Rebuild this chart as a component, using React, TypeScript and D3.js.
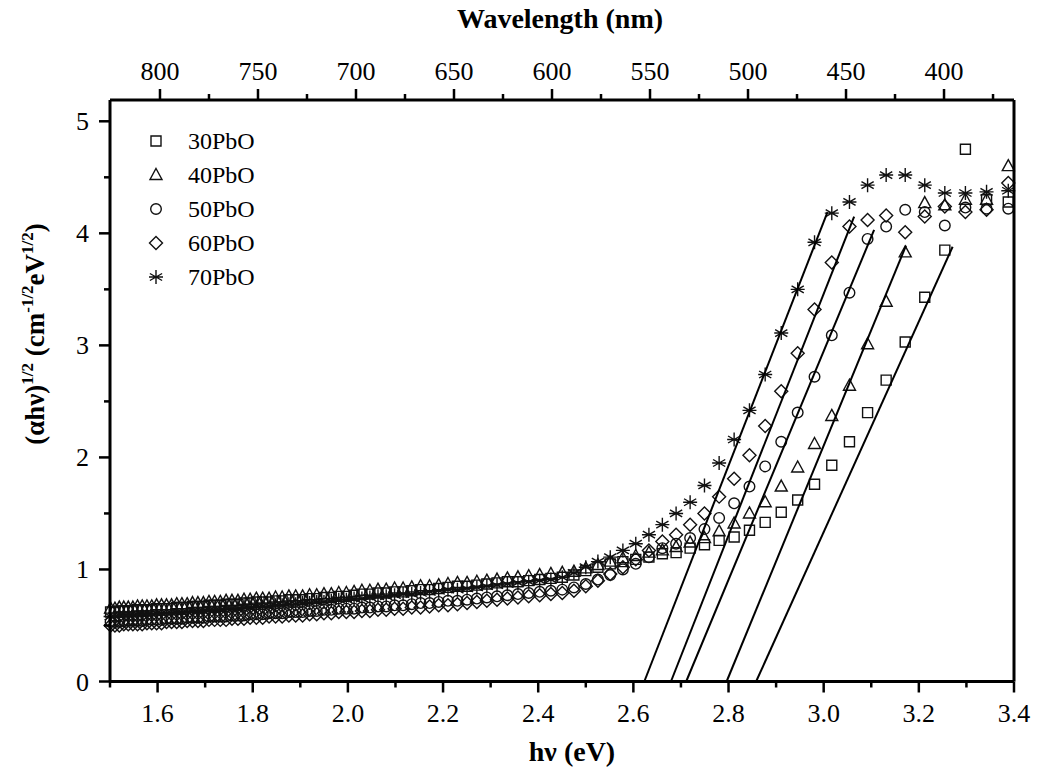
import React from 'react';
import * as d3 from 'd3';

// Measurement grid (nm); photon energy hν = 1240 / λ (eV)
const wavelengthNm = [
  826, 821, 816, 811, 806, 801, 796, 791, 786, 781,
  776, 771, 766, 761, 756, 751, 746, 741, 736, 731,
  726, 721, 716, 711, 706, 701, 696, 691, 686, 681,
  676, 671, 666, 661, 656, 651, 646, 641, 636, 631,
  626, 621, 616, 611, 606, 601, 596, 591, 586, 581,
  576, 571, 566, 561, 556, 551, 546, 541, 536, 531,
  526, 521, 516, 511, 506,
  501, 496, 491, 486, 481, 476, 471, 466, 461, 456,
  451, 446, 441, 436, 431, 426, 421, 416, 411, 406,
  401, 396, 391, 386, 381, 376, 371, 366,
];

// (αhν)^1/2 for each glass composition
const pbo30 = [
  0.62, 0.62, 0.63, 0.63, 0.63, 0.63, 0.64, 0.64, 0.64, 0.64,
  0.65, 0.65, 0.65, 0.65, 0.66, 0.66, 0.66, 0.67, 0.67, 0.67,
  0.68, 0.68, 0.68, 0.69, 0.69, 0.69, 0.70, 0.70, 0.71, 0.71,
  0.71, 0.72, 0.72, 0.73, 0.73, 0.73, 0.74, 0.74, 0.75, 0.75,
  0.76, 0.76, 0.77, 0.78, 0.78, 0.79, 0.79, 0.80, 0.80, 0.81,
  0.82, 0.82, 0.83, 0.84, 0.85, 0.85, 0.86, 0.87, 0.88, 0.89,
  0.89, 0.90, 0.91, 0.92, 0.93,
  0.95, 0.99, 1.02, 1.05, 1.07, 1.09, 1.11, 1.14, 1.15, 1.19,
  1.22, 1.26, 1.29, 1.35, 1.42, 1.51, 1.62, 1.76, 1.93, 2.14,
  2.40, 2.69, 3.03, 3.43, 3.85, 4.75, 4.30, 4.28,
];
const pbo40 = [
  0.65, 0.65, 0.66, 0.66, 0.66, 0.66, 0.67, 0.67, 0.67, 0.67,
  0.68, 0.68, 0.68, 0.68, 0.69, 0.69, 0.69, 0.70, 0.70, 0.70,
  0.71, 0.71, 0.71, 0.72, 0.72, 0.72, 0.73, 0.73, 0.74, 0.74,
  0.74, 0.75, 0.75, 0.76, 0.76, 0.76, 0.77, 0.77, 0.78, 0.78,
  0.79, 0.79, 0.80, 0.81, 0.81, 0.82, 0.82, 0.83, 0.83, 0.84,
  0.85, 0.85, 0.86, 0.87, 0.88, 0.88, 0.89, 0.90, 0.91, 0.92,
  0.93, 0.94, 0.95, 0.96, 0.97,
  0.98, 1.01, 1.04, 1.07, 1.10, 1.12, 1.15, 1.17, 1.20, 1.24,
  1.28, 1.34, 1.41, 1.50, 1.60, 1.74, 1.91, 2.12, 2.37, 2.64,
  3.01, 3.39, 3.83, 4.27, 4.25, 4.30, 4.30, 4.60,
];
const pbo50 = [
  0.53, 0.53, 0.53, 0.54, 0.54, 0.54, 0.54, 0.54, 0.55, 0.55,
  0.55, 0.55, 0.56, 0.56, 0.56, 0.56, 0.57, 0.57, 0.57, 0.57,
  0.58, 0.58, 0.58, 0.58, 0.59, 0.59, 0.59, 0.60, 0.60, 0.60,
  0.61, 0.61, 0.61, 0.62, 0.62, 0.62, 0.63, 0.63, 0.64, 0.64,
  0.65, 0.65, 0.65, 0.66, 0.66, 0.67, 0.67, 0.68, 0.68, 0.69,
  0.70, 0.70, 0.71, 0.72, 0.72, 0.73, 0.74, 0.75, 0.76, 0.77,
  0.78, 0.79, 0.80, 0.81, 0.82,
  0.84, 0.87, 0.91, 0.95, 1.00, 1.05, 1.11, 1.19, 1.23, 1.28,
  1.36, 1.46, 1.59, 1.74, 1.92, 2.14, 2.40, 2.72, 3.09, 3.47,
  3.95, 4.06, 4.21, 4.19, 4.07, 4.23, 4.22, 4.22,
];
const pbo60 = [
  0.50, 0.50, 0.50, 0.51, 0.51, 0.51, 0.51, 0.51, 0.52, 0.52,
  0.52, 0.52, 0.53, 0.53, 0.53, 0.53, 0.54, 0.54, 0.54, 0.54,
  0.55, 0.55, 0.55, 0.55, 0.56, 0.56, 0.56, 0.57, 0.57, 0.57,
  0.58, 0.58, 0.58, 0.59, 0.59, 0.59, 0.60, 0.60, 0.61, 0.61,
  0.62, 0.62, 0.62, 0.63, 0.63, 0.64, 0.64, 0.65, 0.65, 0.66,
  0.66, 0.67, 0.68, 0.68, 0.69, 0.70, 0.71, 0.72, 0.73, 0.74,
  0.75, 0.76, 0.77, 0.78, 0.79,
  0.81, 0.85, 0.90, 0.96, 1.02, 1.09, 1.17, 1.25, 1.31, 1.40,
  1.50, 1.65, 1.81, 2.02, 2.28, 2.59, 2.93, 3.32, 3.74, 4.06,
  4.12, 4.16, 4.01, 4.15, 4.24, 4.19, 4.21, 4.45,
];
const pbo70 = [
  0.58, 0.58, 0.59, 0.59, 0.59, 0.59, 0.60, 0.60, 0.60, 0.60,
  0.61, 0.61, 0.61, 0.61, 0.62, 0.62, 0.62, 0.63, 0.63, 0.63,
  0.64, 0.64, 0.64, 0.65, 0.65, 0.65, 0.66, 0.66, 0.67, 0.67,
  0.67, 0.68, 0.68, 0.69, 0.69, 0.70, 0.70, 0.71, 0.71, 0.72,
  0.73, 0.73, 0.74, 0.74, 0.75, 0.76, 0.76, 0.77, 0.78, 0.78,
  0.79, 0.80, 0.81, 0.82, 0.82, 0.83, 0.84, 0.85, 0.86, 0.87,
  0.88, 0.89, 0.90, 0.91, 0.93,
  0.97, 1.02, 1.07, 1.11, 1.17, 1.23, 1.31, 1.40, 1.50, 1.60,
  1.75, 1.95, 2.16, 2.42, 2.74, 3.11, 3.50, 3.92, 4.18, 4.28,
  4.43, 4.52, 4.52, 4.43, 4.36, 4.36, 4.37, 4.38,
];

const seriesNames = ['30PbO', '40PbO', '50PbO', '60PbO', '70PbO'];
const seriesValues = [pbo30, pbo40, pbo50, pbo60, pbo70];
const seriesSymbols = ['square', 'triangle', 'circle', 'diamond', 'asterisk'];

// Linear Tauc fits: optical gap (x-intercept) and upper end of each fitted segment
const fitGapEv = [2.858, 2.796, 2.711, 2.679, 2.623];
const fitEndEv = [3.271, 3.173, 3.106, 3.064, 3.008];
const fitEndValue = [3.88, 3.89, 4.03, 4.15, 4.19];

const energyTicks = [1.6, 1.8, 2.0, 2.2, 2.4, 2.6, 2.8, 3.0, 3.2, 3.4];
const energyMinorTicks = [1.5, 1.7, 1.9, 2.1, 2.3, 2.5, 2.7, 2.9, 3.1, 3.3];
const valueTicks = [0, 1, 2, 3, 4, 5];
const valueMinorTicks = [0.5, 1.5, 2.5, 3.5, 4.5];
const wavelengthTicks = [800, 750, 700, 650, 600, 550, 500, 450, 400];
const wavelengthMinorTicks = [775, 725, 675, 625, 575, 525, 475, 425, 375];

const W = 1043;
const H = 778;
const left = 110;
const right = 1014;
const top = 100;
const bottom = 681.5;

const FONT = '"Liberation Serif", "Times New Roman", serif';

function symbolPath(kind: string): string {
  switch (kind) {
    case 'square':
      return 'M-5,-5H5V5H-5Z';
    case 'triangle':
      return 'M0,-6.5L6,4.5H-6Z';
    case 'diamond':
      return 'M0,-6.5L6.5,0L0,6.5L-6.5,0Z';
    case 'asterisk':
      return 'M0,-7V7M-6.1,-3.5L6.1,3.5M-6.1,3.5L6.1,-3.5M-7,0H7';
    default:
      return '';
  }
}

function Marker({ kind, x, y }: { kind: string; x: number; y: number }) {
  if (kind === 'circle') {
    return <circle cx={x} cy={y} r={5.3} fill="none" stroke="#111" strokeWidth={1.4} />;
  }
  return (
    <path
      d={symbolPath(kind)}
      transform={`translate(${x},${y})`}
      fill="none"
      stroke="#111"
      strokeWidth={1.4}
      strokeLinejoin="miter"
    />
  );
}

export default function App() {
  const x = d3.scaleLinear().domain([1.5, 3.4]).range([left, right]);
  const y = d3.scaleLinear().domain([0, 5.19]).range([bottom, top]);
  const xTop = d3.scaleLinear().domain([825.5, 364.3]).range([left, right]);
  const energy = wavelengthNm.map((l) => 1240 / l);

  const fitLine = d3
    .line<[number, number]>()
    .x((d) => x(d[0]))
    .y((d) => y(d[1]));

  const axisW = 3;
  const major = 11;
  const minor = 6;

  return (
    <svg
      width={W}
      height={H}
      viewBox={`0 0 ${W} ${H}`}
      style={{ position: 'absolute', left: 0, top: 0, background: '#fff' }}
      fontFamily={FONT}
    >
      <rect x={0} y={0} width={W} height={H} fill="#fff" />

      {/* data markers */}
      <g>
        {seriesValues.map((vals, si) =>
          vals.map((v, i) => (
            <Marker key={`${si}-${i}`} kind={seriesSymbols[si]} x={x(energy[i])} y={y(v)} />
          ))
        )}
      </g>

      {/* Tauc fit lines */}
      <g>
        {fitGapEv.map((g, i) => (
          <path
            key={i}
            d={fitLine([
              [g, 0],
              [fitEndEv[i], fitEndValue[i]],
            ]) as string}
            fill="none"
            stroke="#000"
            strokeWidth={2}
          />
        ))}
      </g>

      {/* frame */}
      <g stroke="#000" strokeWidth={axisW} fill="none">
        <line x1={left} x2={right} y1={bottom} y2={bottom} />
        <line x1={left} x2={right} y1={top} y2={top} />
        <line x1={left} x2={left} y1={top} y2={bottom} />
        <line x1={right} x2={right} y1={top} y2={bottom} />
      </g>

      {/* bottom axis */}
      <g stroke="#000" strokeWidth={2.5}>
        {energyTicks.map((t) => (
          <line key={t} x1={x(t)} x2={x(t)} y1={bottom} y2={bottom + major} />
        ))}
        {energyMinorTicks.map((t) => (
          <line key={t} x1={x(t)} x2={x(t)} y1={bottom} y2={bottom + minor} />
        ))}
      </g>
      <g fontSize={26} textAnchor="middle" fill="#000">
        {energyTicks.map((t) => (
          <text key={t} x={x(t)} y={722}>
            {t.toFixed(1)}
          </text>
        ))}
      </g>

      {/* left axis */}
      <g stroke="#000" strokeWidth={2.5}>
        {valueTicks.map((t) => (
          <line key={t} x1={left - major} x2={left} y1={y(t)} y2={y(t)} />
        ))}
        {valueMinorTicks.map((t) => (
          <line key={t} x1={left - minor} x2={left} y1={y(t)} y2={y(t)} />
        ))}
      </g>
      <g fontSize={26} textAnchor="end" fill="#000">
        {valueTicks.map((t) => (
          <text key={t} x={89} y={y(t) + 9}>
            {t}
          </text>
        ))}
      </g>

      {/* top axis (wavelength) */}
      <g stroke="#000" strokeWidth={2.5}>
        {wavelengthTicks.map((t) => (
          <line key={t} x1={xTop(t)} x2={xTop(t)} y1={top} y2={top - major} />
        ))}
        {wavelengthMinorTicks.map((t) => (
          <line key={t} x1={xTop(t)} x2={xTop(t)} y1={top} y2={top - minor} />
        ))}
      </g>
      <g fontSize={26} textAnchor="middle" fill="#000">
        {wavelengthTicks.map((t) => (
          <text key={t} x={xTop(t)} y={80}>
            {t}
          </text>
        ))}
      </g>

      {/* axis titles */}
      <text x={560} y={28} fontSize={28} fontWeight="bold" textAnchor="middle">
        Wavelength (nm)
      </text>
      <text x={572} y={761} fontSize={28} fontWeight="bold" textAnchor="middle">
        hν (eV)
      </text>
      <text
        transform="translate(44,334) rotate(-90)"
        fontSize={27}
        fontWeight="bold"
        textAnchor="middle"
      >
        (αhν)
        <tspan dy={-11} fontSize={17}>1/2</tspan>
        <tspan dy={11}> (cm</tspan>
        <tspan dy={-11} fontSize={17}>-1/2</tspan>
        <tspan dy={11}>eV</tspan>
        <tspan dy={-11} fontSize={17}>1/2</tspan>
        <tspan dy={11}>)</tspan>
      </text>

      {/* legend */}
      <g>
        {seriesNames.map((name, i) => {
          const cy = 141 + i * 34;
          return (
            <g key={name}>
              <Marker kind={seriesSymbols[i]} x={156} y={cy} />
              <text x={188} y={cy + 8} fontSize={24}>
                {name}
              </text>
            </g>
          );
        })}
      </g>
    </svg>
  );
}
